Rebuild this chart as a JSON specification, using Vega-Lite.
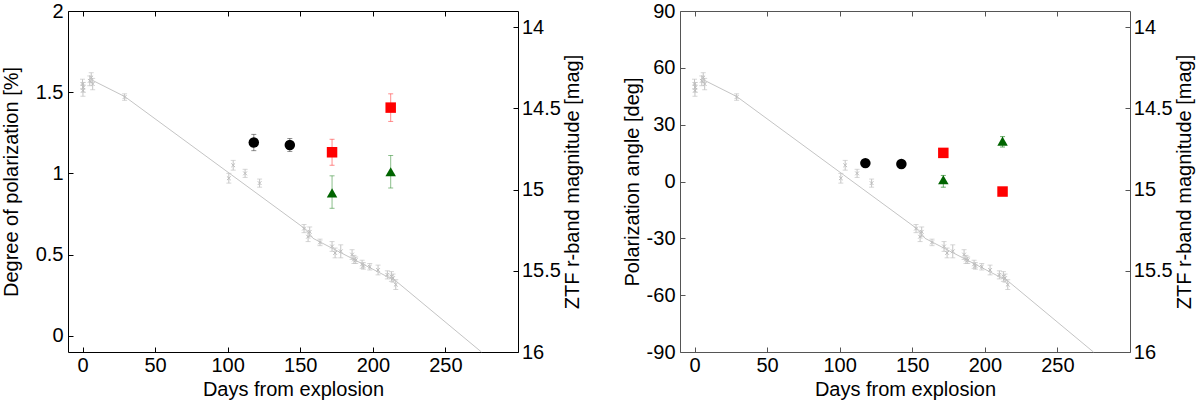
{
  "$schema": "https://vega.github.io/schema/vega-lite/v6.json",
  "padding": {"left": 1, "top": 1, "right": 1, "bottom": 3},
  "spacing": 39,
  "config": {
    "font": "Liberation Sans",
    "view": {"stroke": null},
    "axis": {"labelFontSize": 20, "titleFontSize": 20, "titleFontWeight": "normal", "labelColor": "#000", "titleColor": "#000", "grid": false, "tickSize": -5, "labelPadding": 10, "tickColor": "#000", "domainColor": "#000"}
  },
  "datasets": {
    "lc": [
      {"day": 0, "mag": 14.35, "lo": 14.32, "hi": 14.38},
      {"day": 0.3, "mag": 14.39, "lo": 14.355, "hi": 14.425},
      {"day": 0.6, "mag": 14.37, "lo": 14.34, "hi": 14.4},
      {"day": 5, "mag": 14.33, "lo": 14.3, "hi": 14.36},
      {"day": 6, "mag": 14.31, "lo": 14.28, "hi": 14.34},
      {"day": 7, "mag": 14.35, "lo": 14.315, "hi": 14.385},
      {"day": 29, "mag": 14.43, "lo": 14.41, "hi": 14.45},
      {"day": 100.8, "mag": 14.93, "lo": 14.9, "hi": 14.96},
      {"day": 103.8, "mag": 14.85, "lo": 14.82, "hi": 14.88},
      {"day": 112, "mag": 14.9, "lo": 14.875, "hi": 14.925},
      {"day": 122, "mag": 14.96, "lo": 14.935, "hi": 14.985},
      {"day": 152.6, "mag": 15.24, "lo": 15.215, "hi": 15.265},
      {"day": 155.4, "mag": 15.29, "lo": 15.26, "hi": 15.32},
      {"day": 156.5, "mag": 15.26, "lo": 15.23, "hi": 15.29},
      {"day": 163.6, "mag": 15.325, "lo": 15.305, "hi": 15.345},
      {"day": 171.9, "mag": 15.35, "lo": 15.32, "hi": 15.38},
      {"day": 174, "mag": 15.39, "lo": 15.36, "hi": 15.42},
      {"day": 177.9, "mag": 15.38, "lo": 15.34, "hi": 15.42},
      {"day": 185.7, "mag": 15.4, "lo": 15.37, "hi": 15.43},
      {"day": 187, "mag": 15.43, "lo": 15.405, "hi": 15.455},
      {"day": 188.2, "mag": 15.435, "lo": 15.415, "hi": 15.455},
      {"day": 192.6, "mag": 15.46, "lo": 15.435, "hi": 15.485},
      {"day": 193.5, "mag": 15.47, "lo": 15.45, "hi": 15.49},
      {"day": 197.9, "mag": 15.475, "lo": 15.455, "hi": 15.495},
      {"day": 203.6, "mag": 15.495, "lo": 15.465, "hi": 15.525},
      {"day": 210, "mag": 15.525, "lo": 15.5, "hi": 15.55},
      {"day": 212.8, "mag": 15.535, "lo": 15.505, "hi": 15.565},
      {"day": 213.9, "mag": 15.545, "lo": 15.52, "hi": 15.57},
      {"day": 215.8, "mag": 15.585, "lo": 15.555, "hi": 15.615}
    ],
    "model": [
      {"day": 6.2, "mag": 14.324},
      {"day": 29.1, "mag": 14.427},
      {"day": 154.2, "mag": 15.247},
      {"day": 158.8, "mag": 15.3},
      {"day": 216.2, "mag": 15.565},
      {"day": 274.8, "mag": 16.0}
    ],
    "pol": [
      {"panel": "deg", "g": "A", "day": 118.0, "v": 1.19, "lo": 1.14, "hi": 1.24},
      {"panel": "deg", "g": "A", "day": 142.8, "v": 1.175, "lo": 1.135, "hi": 1.215},
      {"panel": "deg", "g": "B", "day": 171.9, "v": 1.13, "lo": 1.05, "hi": 1.21},
      {"panel": "deg", "g": "B", "day": 212.3, "v": 1.405, "lo": 1.32, "hi": 1.49},
      {"panel": "deg", "g": "C", "day": 171.9, "v": 0.88, "lo": 0.785, "hi": 0.985},
      {"panel": "deg", "g": "C", "day": 212.3, "v": 1.01, "lo": 0.91, "hi": 1.11},
      {"panel": "ang", "g": "A", "day": 117.7, "v": 9.7, "lo": 8.5, "hi": 11.0},
      {"panel": "ang", "g": "A", "day": 142.5, "v": 9.2, "lo": 8.0, "hi": 10.4},
      {"panel": "ang", "g": "B", "day": 171.4, "v": 15.1, "lo": 13.8, "hi": 16.4},
      {"panel": "ang", "g": "B", "day": 212.2, "v": -5.3, "lo": -6.6, "hi": -4.0},
      {"panel": "ang", "g": "C", "day": 171.4, "v": 0.9, "lo": -3.0, "hi": 3.2},
      {"panel": "ang", "g": "C", "day": 212.2, "v": 21.3, "lo": 18.2, "hi": 23.7}
    ]
  },
  "hconcat": [
    {
      "width": 450, "height": 341,
      "resolve": {"scale": {"y": "independent"}, "axis": {"x": "independent"}},
      "layer": [
        {
          "layer": [
            {
              "data": {"name": "model"},
              "mark": {"type": "line", "color": "#c4c4c4", "strokeWidth": 1},
              "encoding": {
                "x": {"field": "day", "type": "quantitative", "title": "Days from explosion", "scale": {"domain": [-10, 300], "nice": false, "zero": false}, "axis": {"orient": "bottom", "values": [0, 50, 100, 150, 200, 250], "titlePadding": 3.5, "labelPadding": 8.5}},
                "y": {"field": "mag", "type": "quantitative", "title": "ZTF r-band magnitude [mag]", "scale": {"domain": [13.9, 16], "reverse": true, "nice": false, "zero": false}, "axis": {"orient": "right", "values": [14, 14.5, 15, 15.5, 16], "format": ".1~f", "titleAngle": -90, "titleBaseline": "top", "labelPadding": 8.4, "titlePadding": 2}}
              }
            },
            {
              "data": {"name": "lc"},
              "mark": {"type": "errorbar", "color": "#c4c4c4", "thickness": 1, "ticks": {"size": 5, "color": "#c4c4c4"}},
              "encoding": {
                "x": {"field": "day", "type": "quantitative", "title": "Days from explosion"},
                "y": {"field": "lo", "type": "quantitative", "title": "ZTF r-band magnitude [mag]"},
                "y2": {"field": "hi"}
              }
            },
            {
              "data": {"name": "lc"},
              "mark": {"type": "point", "shape": "M-1,-1L1,1M-1,1L1,-1", "size": 14, "filled": false, "stroke": "#bdbdbd", "strokeWidth": 1, "opacity": 1},
              "encoding": {
                "x": {"field": "day", "type": "quantitative", "title": "Days from explosion"},
                "y": {"field": "mag", "type": "quantitative", "title": "ZTF r-band magnitude [mag]"}
              }
            }
          ]
        },
        {
          "data": {"name": "pol"},
          "transform": [{"filter": "datum.panel === 'deg'"}],
          "resolve": {"scale": {"color": "independent"}},
          "layer": [
            {
              "mark": {"type": "errorbar", "thickness": 1, "ticks": {"size": 5}, "opacity": 0.55},
              "encoding": {
                "x": {"field": "day", "type": "quantitative", "title": null, "scale": {"domain": [-10, 300], "nice": false, "zero": false}, "axis": {"orient": "top", "values": [0, 50, 100, 150, 200, 250], "labels": false}},
                "y": {"field": "lo", "type": "quantitative", "title": "Degree of polarization [%]", "scale": {"domain": [-0.1, 2], "nice": false, "zero": false}, "axis": {"orient": "left", "values": [0, 0.5, 1, 1.5, 2], "format": ".1~f", "labelPadding": 10, "titlePadding": 14}},
                "y2": {"field": "hi"},
                "color": {"field": "g", "type": "nominal", "scale": {"domain": ["A", "B", "C"], "range": ["#333333", "#ff3030", "#2e8b2e"]}, "legend": null}
              }
            },
            {
              "mark": {"type": "point", "filled": true, "opacity": 1, "size": 110},
              "encoding": {
                "x": {"field": "day", "type": "quantitative", "title": null},
                "y": {"field": "v", "type": "quantitative", "title": "Degree of polarization [%]"},
                "color": {"field": "g", "type": "nominal", "scale": {"domain": ["A", "B", "C"], "range": ["#000000", "#ff0000", "#006400"]}, "legend": null},
                "shape": {"field": "g", "type": "nominal", "scale": {"domain": ["A", "B", "C"], "range": ["circle", "square", "triangle-up"]}, "legend": null}
              }
            }
          ]
        }
      ]
    },
    {
      "width": 450, "height": 341,
      "resolve": {"scale": {"y": "independent"}, "axis": {"x": "independent"}},
      "layer": [
        {
          "layer": [
            {
              "data": {"name": "model"},
              "mark": {"type": "line", "color": "#c4c4c4", "strokeWidth": 1},
              "encoding": {
                "x": {"field": "day", "type": "quantitative", "title": "Days from explosion", "scale": {"domain": [-10, 300], "nice": false, "zero": false}, "axis": {"orient": "bottom", "values": [0, 50, 100, 150, 200, 250], "titlePadding": 3.5, "labelPadding": 8.5, "domainColor": "#555555", "tickColor": "#555555"}},
                "y": {"field": "mag", "type": "quantitative", "title": "ZTF r-band magnitude [mag]", "scale": {"domain": [13.9, 16], "reverse": true, "nice": false, "zero": false}, "axis": {"orient": "right", "values": [14, 14.5, 15, 15.5, 16], "format": ".1~f", "titleAngle": -90, "titleBaseline": "top", "labelPadding": 8.3, "titlePadding": 2, "domainColor": "#555555", "tickColor": "#555555"}}
              }
            },
            {
              "data": {"name": "lc"},
              "mark": {"type": "errorbar", "color": "#c4c4c4", "thickness": 1, "ticks": {"size": 5, "color": "#c4c4c4"}},
              "encoding": {
                "x": {"field": "day", "type": "quantitative", "title": "Days from explosion"},
                "y": {"field": "lo", "type": "quantitative", "title": "ZTF r-band magnitude [mag]"},
                "y2": {"field": "hi"}
              }
            },
            {
              "data": {"name": "lc"},
              "mark": {"type": "point", "shape": "M-1,-1L1,1M-1,1L1,-1", "size": 14, "filled": false, "stroke": "#bdbdbd", "strokeWidth": 1, "opacity": 1},
              "encoding": {
                "x": {"field": "day", "type": "quantitative", "title": "Days from explosion"},
                "y": {"field": "mag", "type": "quantitative", "title": "ZTF r-band magnitude [mag]"}
              }
            }
          ]
        },
        {
          "data": {"name": "pol"},
          "transform": [{"filter": "datum.panel === 'ang'"}],
          "resolve": {"scale": {"color": "independent"}},
          "layer": [
            {
              "mark": {"type": "errorbar", "thickness": 1, "ticks": {"size": 5}, "opacity": 0.7},
              "encoding": {
                "x": {"field": "day", "type": "quantitative", "title": null, "scale": {"domain": [-10, 300], "nice": false, "zero": false}, "axis": {"orient": "top", "values": [0, 50, 100, 150, 200, 250], "labels": false, "domainColor": "#555555", "tickColor": "#555555"}},
                "y": {"field": "lo", "type": "quantitative", "title": "Polarization angle [deg]", "scale": {"domain": [-90, 90], "nice": false, "zero": false}, "axis": {"orient": "left", "values": [-90, -60, -30, 0, 30, 60, 90], "labelExpr": "'' + datum.value", "labelPadding": 10, "titlePadding": 4, "domainColor": "#555555", "tickColor": "#555555"}},
                "y2": {"field": "hi"},
                "color": {"field": "g", "type": "nominal", "scale": {"domain": ["A", "B", "C"], "range": ["#333333", "#ff3030", "#2e8b2e"]}, "legend": null}
              }
            },
            {
              "mark": {"type": "point", "filled": true, "opacity": 1, "size": 110},
              "encoding": {
                "x": {"field": "day", "type": "quantitative", "title": null},
                "y": {"field": "v", "type": "quantitative", "title": "Polarization angle [deg]"},
                "color": {"field": "g", "type": "nominal", "scale": {"domain": ["A", "B", "C"], "range": ["#000000", "#ff0000", "#006400"]}, "legend": null},
                "shape": {"field": "g", "type": "nominal", "scale": {"domain": ["A", "B", "C"], "range": ["circle", "square", "triangle-up"]}, "legend": null}
              }
            }
          ]
        }
      ]
    }
  ]
}
